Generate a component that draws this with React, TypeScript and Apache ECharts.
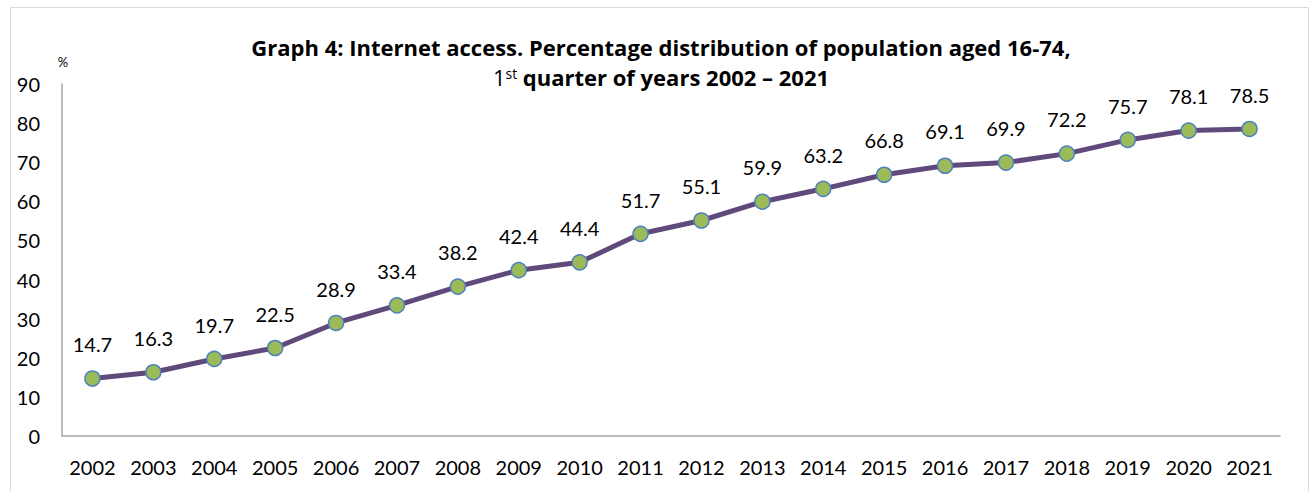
import React, { useEffect, useRef } from "react";
import * as echarts from "echarts";

const years = ["2002","2003","2004","2005","2006","2007","2008","2009","2010","2011","2012","2013","2014","2015","2016","2017","2018","2019","2020","2021"];
const internetAccess = [14.7,16.3,19.7,22.5,28.9,33.4,38.2,42.4,44.4,51.7,55.1,59.9,63.2,66.8,69.1,69.9,72.2,75.7,78.1,78.5];
const titleLine1 = "Graph 4: Internet access. Percentage distribution of population aged 16-74,";
const titleLine2 = "{r|1}{sup|st}{n| quarter of years 2002 – 2021}";

export default function App() {
  const ref = useRef<HTMLDivElement>(null);
  useEffect(() => {
    document.body.style.margin = "0";
    const chart = echarts.init(ref.current!, null, { renderer: "svg" });
    const font = "Lato, 'Open Sans', sans-serif";
    const tfont = "'Open Sans', Lato, sans-serif";
    chart.setOption({
      animation: false,
      backgroundColor: "#ffffff",
      textStyle: { fontFamily: font },
      graphic: [
        { type: "rect", shape: { x: 10.5, y: 7.5, width: 1298, height: 500 }, style: { fill: "none", stroke: "#d9d9d9", lineWidth: 1 }, silent: true },
        { type: "text", x: 661, y: 47, style: { text: titleLine1, font: `bold 22px ${tfont}`, fill: "#000", align: "center", verticalAlign: "middle" } },
        { type: "text", x: 661, y: 77, style: { text: titleLine2, align: "center", verticalAlign: "middle", rich: {
          r: { fontFamily: tfont, fontWeight: "normal", fontSize: 22, color: "#000" },
          n: { fontFamily: tfont, fontWeight: "bold", fontSize: 22, color: "#000" },
          sup: { fontFamily: tfont, fontWeight: "normal", fontSize: 14, color: "#000", verticalAlign: "top", padding: [0, 0, 8, 0] },
        } } },
        { type: "text", x: 63, y: 62, style: { text: "%", font: `13px ${font}`, fill: "#000", align: "center", verticalAlign: "middle" } },
      ],
      grid: { left: 62, right: 36, top: 84, bottom: 55 },
      xAxis: {
        type: "category",
        data: years,
        boundaryGap: true,
        axisLine: { lineStyle: { color: "#a6a6a6", width: 1.5 } },
        axisTick: { show: false },
        axisLabel: { color: "#000", fontSize: 20, fontFamily: font, margin: 21 },
      },
      yAxis: {
        type: "value",
        min: 0,
        max: 90,
        interval: 10,
        splitLine: { show: false },
        axisLine: { show: true, lineStyle: { color: "#a6a6a6", width: 1.5 } },
        axisTick: { show: false },
        axisLabel: { color: "#000", fontSize: 20, fontFamily: font, margin: 22 },
      },
      series: [
        {
          type: "line",
          data: internetAccess,
          symbol: "circle",
          symbolSize: 15,
          lineStyle: { color: "#604a7b", width: 5 },
          itemStyle: { color: "#9bbb59", borderColor: "#4f81bd", borderWidth: 1.5 },
          label: { show: true, position: "top", distance: 16, color: "#000", fontSize: 20, fontFamily: font, formatter: (p: any) => p.value.toFixed(1) },
          z: 3,
        },
      ],
    });
    return () => chart.dispose();
  }, []);
  return <div ref={ref} style={{ width: 1316, height: 491 }} />;
}
